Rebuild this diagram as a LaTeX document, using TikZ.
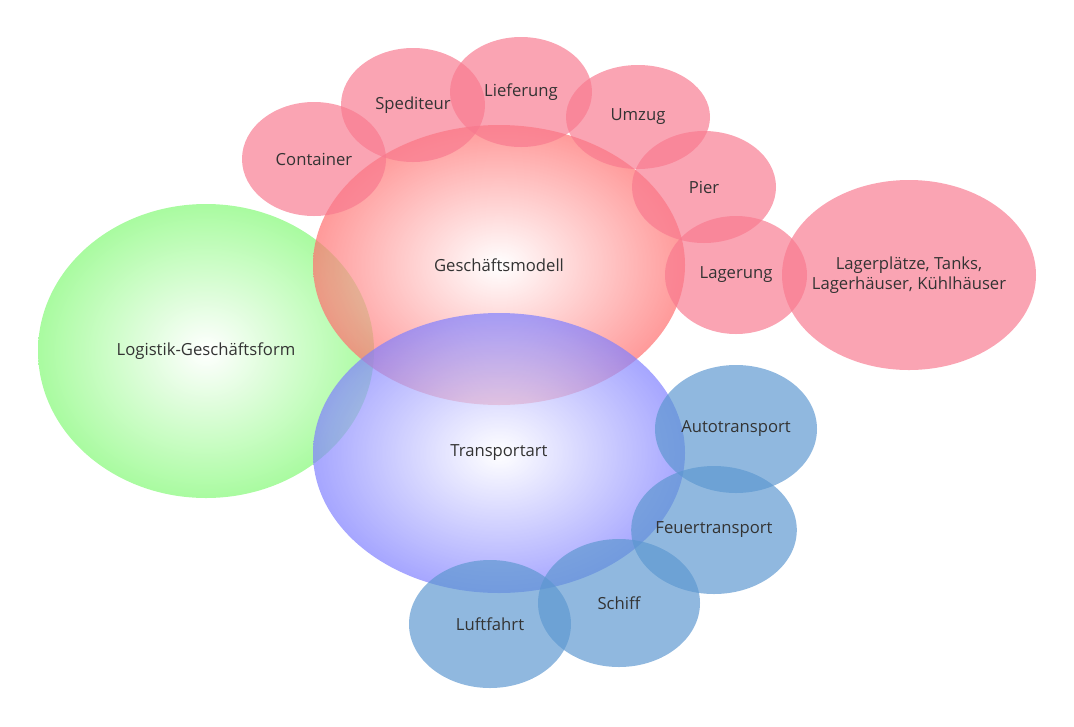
\documentclass[tikz,border=0pt]{standalone}
\usepackage{fontspec}
\setmainfont{Open Sans}
\usetikzlibrary{shapes.geometric}
\definecolor{bubblered}{HTML}{F8798F}
\definecolor{bubbleblue}{HTML}{5C97D0}
\definecolor{outerred}{HTML}{FF6F6F}
\definecolor{outerblue}{HTML}{8080FF}
\definecolor{outergreen}{HTML}{8CFA80}

\begin{document}
\begin{tikzpicture}[x=0.75pt, y=-0.75pt, font=\fontsize{12.5}{15}\selectfont, text=black!80]
\tikzset{bubble/.style={ellipse, inner sep=0pt, text opacity=1, align=center},
         big/.style={bubble, minimum width=279pt, minimum height=210pt},
         red/.style={bubble, fill=bubblered, fill opacity=0.68},
         blue/.style={bubble, fill=bubbleblue, fill opacity=0.68, minimum width=121.5pt, minimum height=96pt}}
\useasboundingbox (0,0) rectangle (1074,726);
\node[bubble, minimum width=252pt, minimum height=220.5pt, inner color=white, outer color=outergreen, fill opacity=0.75] (logistik) at (206,351) {Logistik-Geschäftsform};
\node[big, inner color=white, outer color=outerred, fill opacity=0.7] (modell) at (499,265) {Geschäftsmodell};
\node[big, inner color=white, outer color=outerblue, fill opacity=0.7] (art) at (499,453) {Transportart};
\node[red, minimum width=108pt, minimum height=85.5pt] (container) at (314,159) {Container};
\node[red, minimum width=108pt, minimum height=85.5pt] (spediteur) at (413,105) {Spediteur};
\node[red, minimum width=106.5pt, minimum height=82.5pt] (lieferung) at (521,92) {Lieferung};
\node[red, minimum width=108pt, minimum height=78pt] (umzug) at (638,117) {Umzug};
\node[red, minimum width=108pt, minimum height=84pt] (pier) at (704,187) {Pier};
\node[red, minimum width=106.5pt, minimum height=88.5pt] (lagerung) at (736,275) {Lagerung};
\node[red, minimum width=190.5pt, minimum height=142.5pt] (plaetze) at (909,275) {\makebox[0pt]{\shortstack{Lagerplätze, Tanks,\\Lagerhäuser, Kühlhäuser}}};
\node[blue] (auto) at (736,429) {Autotransport};
\node[blue] (feuer) at (714,530) {Feuertransport};
\node[blue] (schiff) at (619,603) {Schiff};
\node[blue] (luft) at (490,624) {Luftfahrt};
\end{tikzpicture}
\end{document}
